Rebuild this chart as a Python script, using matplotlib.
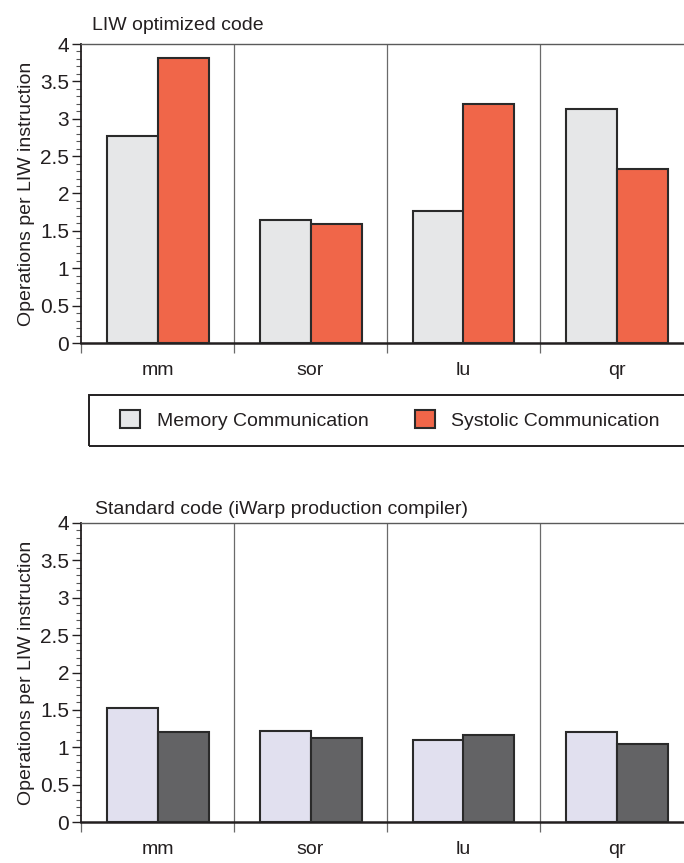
import matplotlib
matplotlib.use("Agg")
import matplotlib.pyplot as plt
from matplotlib.patches import Rectangle, Patch
from matplotlib.ticker import MultipleLocator
import numpy as np

plt.rcParams["font.family"] = ["Liberation Sans", "DejaVu Sans"]

# data
categories = ["mm", "sor", "lu", "qr"]
series_names = ["Memory Communication", "Systolic Communication"]
liw_memory = [2.77, 1.645, 1.77, 3.13]
liw_systolic = [3.81, 1.59, 3.20, 2.33]
std_memory = [1.53, 1.22, 1.10, 1.21]
std_systolic = [1.20, 1.12, 1.17, 1.05]
panel_titles = ["LIW optimized code", "Standard code (iWarp production compiler)"]
ylabel = "Operations per LIW instruction"

TXT = "#231f20"
EDGE = "#2a2a2a"
FS = 14

W, H = 684, 863
fig = plt.figure(figsize=(W / 100, H / 100), dpi=100)


def px_axes(left, top, right, bottom):
    return fig.add_axes([left / W, 1 - bottom / H, (right - left) / W, (bottom - top) / H])


def draw_panel(ax, mem, sysv, colors):
    x = np.arange(len(categories))
    bw = 1 / 3
    b1 = ax.bar(x - bw / 2, mem, bw, color=colors[0], edgecolor=EDGE, linewidth=1.5, zorder=3)
    b2 = ax.bar(x + bw / 2, sysv, bw, color=colors[1], edgecolor=EDGE, linewidth=1.5, zorder=3)
    ax.set_xlim(-0.5, len(categories) - 0.5)
    ax.set_ylim(0, 4)
    for d in x[:-1] + 0.5:
        ax.axvline(d, color="#6a6a6a", lw=0.9, zorder=1)

    # dividers as ticks below the axis, labels at group centres
    ax.set_xticks(np.arange(-0.5, len(categories) - 0.4, 1.0), minor=True)
    ax.set_xticks(x)
    ax.set_xticklabels(categories)
    ax.tick_params(axis="x", which="minor", direction="out", length=7.2, width=0.9, color="#6a6a6a")
    ax.tick_params(axis="x", which="major", length=0, pad=14, labelsize=FS, labelcolor=TXT)

    ax.yaxis.set_major_locator(MultipleLocator(0.5))
    ax.yaxis.set_minor_locator(MultipleLocator(0.1))
    ax.set_yticks(np.arange(0, 4.01, 0.5))
    ax.set_yticklabels(["0", "0.5", "1", "1.5", "2", "2.5", "3", "3.5", "4"])
    ax.tick_params(axis="y", which="major", direction="out", length=6.5, width=1.0,
                   color=TXT, pad=2, labelsize=15, labelcolor=TXT)
    ax.tick_params(axis="y", which="minor", direction="out", length=3.5, width=0.8, color="#555555")

    ax.spines["right"].set_visible(False)
    ax.spines["top"].set_color("#5a5a5a")
    ax.spines["top"].set_linewidth(1.0)
    ax.spines["left"].set_linewidth(1.3)
    ax.spines["left"].set_color(TXT)
    ax.spines["bottom"].set_linewidth(1.8)
    ax.spines["bottom"].set_color(TXT)
    ax.set_ylabel(ylabel, fontsize=FS, color=TXT, labelpad=4)
    return b1, b2


ax1 = px_axes(81, 44, 693, 343)
draw_panel(ax1, liw_memory, liw_systolic, ["#e6e7e8", "#f06649"])
fig.text(92 / W, 1 - 25 / H, panel_titles[0], fontsize=FS, color=TXT, ha="left", va="center")

ax2 = px_axes(81, 523, 693, 822)
draw_panel(ax2, std_memory, std_systolic, ["#e1e0ef", "#636365"])
fig.text(95 / W, 1 - 509 / H, panel_titles[1], fontsize=FS, color=TXT, ha="left", va="center")

# legend box (runs off the right edge like the original)
fig.patches.append(Rectangle((89 / W, 1 - 445.5 / H), (700 - 89) / W, 50.5 / H,
                             transform=fig.transFigure, fill=False,
                             edgecolor=TXT, linewidth=1.4))
handles = [Patch(facecolor="#e6e7e8", edgecolor=EDGE, linewidth=1.5),
           Patch(facecolor="#f06649", edgecolor=EDGE, linewidth=1.5)]
fig.legend(handles, series_names, loc="center left",
           bbox_to_anchor=(110 / W, 1 - 420 / H), ncol=2, frameon=False,
           fontsize=FS, handlelength=1.03, handleheight=1.03,
           handletextpad=0.87, columnspacing=2.37, borderpad=0, labelcolor=TXT)

fig.savefig("out.png", dpi=100)
